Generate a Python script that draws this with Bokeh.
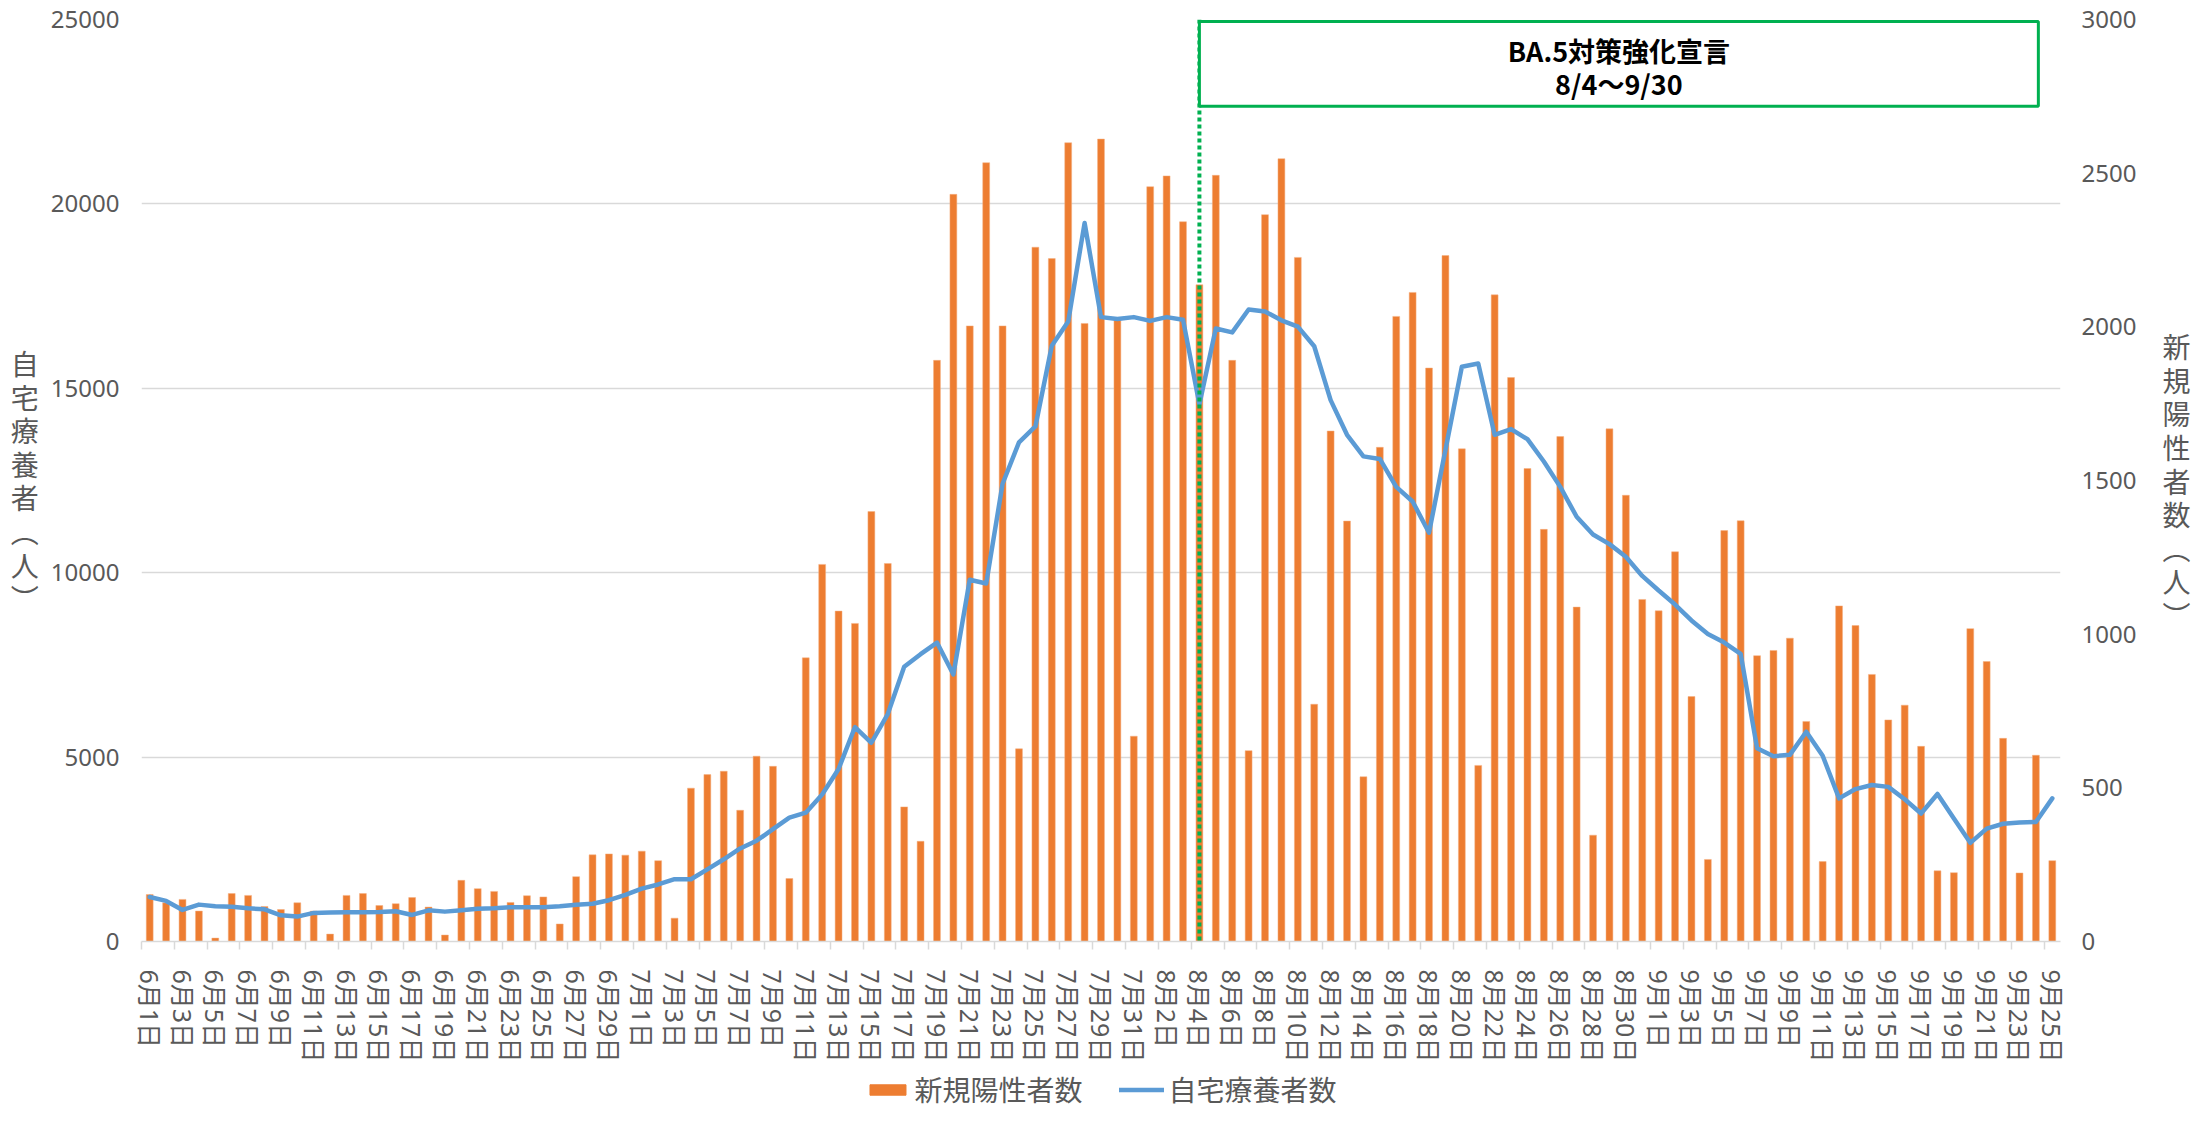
from bokeh.plotting import figure
from bokeh.layouts import column
from bokeh.models import (Range1d, LinearAxis, FixedTicker, Legend, LegendItem, Span,
                          BoxAnnotation, Label, PrintfTickFormatter)
from bokeh.embed import file_html
from bokeh.resources import INLINE

months = [(6, 30), (7, 31), (8, 31), (9, 25)]
dates = [f"{m}月{d}日" for m, n in months for d in range(1, n + 1)]

new_cases = [153, 126, 137, 99, 11, 156, 150, 114, 104, 126,
             99, 24, 150, 156, 117, 123, 143, 112, 21, 199,
             172, 163, 127, 149, 145, 57, 211, 282, 285, 281,
             294, 263, 76, 499, 543, 554, 427, 603, 570, 205,
             923, 1227, 1075, 1035, 1399, 1230, 438, 326, 1891, 2431,
             2003, 2534, 2003, 627, 2259, 2222, 2599, 2011, 2611, 2021,
             668, 2456, 2491, 2342, 2137, 2493, 1891, 621, 2365, 2547,
             2226, 772, 1661, 1368, 536, 1608, 2034, 2112, 1866, 2232,
             1603, 573, 2104, 1835, 1539, 1341, 1643, 1088, 346, 1668,
             1452, 1113, 1076, 1268, 797, 267, 1337, 1369, 930, 947,
             987, 716, 260, 1092, 1028, 869, 721, 769, 635, 230,
             224, 1018, 911, 661, 223, 606, 263]

home_care = [1206, 1100, 855, 1000, 955, 945, 900, 873, 711, 675,
             775, 783, 792, 792, 800, 820, 720, 846, 810, 846,
             891, 900, 927, 927, 930, 958, 996, 1025, 1120, 1262,
             1433, 1547, 1689, 1689, 1955, 2230, 2524, 2733, 3046, 3359,
             3492, 3985, 4678, 5816, 5389, 6167, 7448, 7790, 8105, 7241,
             9810, 9706, 12413, 13534, 13965, 16154, 16810, 19482, 16930, 16878,
             16930, 16827, 16930, 16861, 14568, 16620, 16516, 17137, 17085, 16844,
             16671, 16140, 14680, 13740, 13154, 13085, 12327, 11930, 11085, 13327,
             15585, 15671, 13740, 13895, 13620, 13016, 12327, 11516, 11034, 10775,
             10430, 9913, 9516, 9137, 8706, 8340, 8105, 7797, 5242, 5025,
             5061, 5688, 5037, 3880, 4133, 4242, 4193, 3856, 3470, 4001,
             3338, 2675, 3061, 3193, 3229, 3241, 3880]

left_ticks = [0, 5000, 10000, 15000, 20000, 25000]
right_ticks = [0, 500, 1000, 1500, 2000, 2500, 3000]

n = len(dates)
xs = [i + 0.5 for i in range(n)]

GRAY = "#595959"
GRID = "#d9d9d9"
JP = "Noto Sans CJK JP"
MIX = "'Noto Sans', 'Noto Sans CJK JP'"
ORANGE = "#ED7D31"
BLUE = "#5B9BD5"

p = figure(width=2195, height=1065, x_range=Range1d(0, n), y_range=Range1d(0, 25000),
           output_backend="svg", toolbar_location=None,
           min_border_left=141, min_border_right=135, min_border_top=19, min_border_bottom=120)
p.extra_y_ranges = {"right": Range1d(0, 3000)}
p.outline_line_color = None
p.background_fill_color = "white"
p.border_fill_color = "white"

# x axis
xa = p.xaxis[0]
xa.ticker = FixedTicker(ticks=[i + 0.5 for i in range(0, n, 2)],
                        minor_ticks=list(range(0, n, 2)))
xa.major_label_overrides = {i + 0.5: dates[i] for i in range(0, n, 2)}
xa.major_label_orientation = "vertical"
xa.major_tick_out = 0
xa.major_tick_in = 0
xa.minor_tick_out = 8
xa.minor_tick_in = 0
xa.minor_tick_line_color = GRID
xa.minor_tick_line_width = 1.5
xa.axis_line_color = GRID
xa.axis_line_width = 1.5
xa.major_label_standoff = 20
xa.major_label_text_font = MIX
xa.major_label_text_font_size = "25px"
xa.major_label_text_color = GRAY

# left axis
ya = p.yaxis[0]
ya.ticker = FixedTicker(ticks=left_ticks)
ya.formatter = PrintfTickFormatter(format="%d")
ya.axis_line_color = None
ya.major_tick_line_color = None
ya.minor_tick_line_color = None
ya.major_label_standoff = 16
ya.major_label_text_font = "Noto Sans"
ya.major_label_text_font_size = "24px"
ya.major_label_text_color = GRAY
ya.axis_label = "自\n宅\n療\n養\n者\n︵\n人\n︶"
ya.axis_label_orientation = "horizontal"
ya.axis_label_standoff = 9
ya.axis_label_text_font = JP
ya.axis_label_text_font_size = "28px"
ya.axis_label_text_font_style = "normal"
ya.axis_label_text_color = GRAY
ya.axis_label_text_line_height = 0.84

# right axis
ra = LinearAxis(y_range_name="right", ticker=FixedTicker(ticks=right_ticks),
                formatter=PrintfTickFormatter(format="%d"))
ra.axis_line_color = None
ra.major_tick_line_color = None
ra.minor_tick_line_color = None
ra.major_label_standoff = 15
ra.major_label_text_font = "Noto Sans"
ra.major_label_text_font_size = "24px"
ra.major_label_text_color = GRAY
ra.axis_label = "新\n規\n陽\n性\n者\n数\n︵\n人\n︶"
ra.axis_label_orientation = "horizontal"
ra.axis_label_standoff = 23
ra.axis_label_text_font = JP
ra.axis_label_text_font_size = "28px"
ra.axis_label_text_font_style = "normal"
ra.axis_label_text_color = GRAY
ra.axis_label_text_line_height = 0.84
p.add_layout(ra, "right")

p.xgrid.visible = False
p.ygrid.ticker = FixedTicker(ticks=left_ticks)
p.ygrid.grid_line_color = GRID
p.ygrid.grid_line_width = 1.5

bars = p.vbar(x=xs, top=new_cases, width=0.42, y_range_name="right",
              fill_color=ORANGE, line_color="#F4B183", line_width=0.5)
line = p.line(xs, home_care, line_color=BLUE, line_width=4.5,
              line_join="round", line_cap="round")

# declaration period annotation
start_x = dates.index("8月4日") + 0.5
p.add_layout(Span(location=start_x, dimension="height", line_color="#00B050",
                  line_width=4, line_dash="4 3"))
p.add_layout(BoxAnnotation(left=start_x, right=115.65, bottom=22651, top=24946,
                           fill_color="white", fill_alpha=1.0,
                           line_color="#00B050", line_width=3, line_alpha=1.0))
box_cx = (start_x + 115.65) / 2
for txt, yy in (("BA.5対策強化宣言", 24163), ("8/4～9/30", 23272)):
    p.add_layout(Label(x=box_cx, y=yy, text=txt, text_align="center",
                       text_baseline="middle", text_font=JP, text_font_size="27px",
                       text_font_style="bold", text_color="black"))

# legend strip below the chart (renderers hidden; only their legend swatches show)
q = figure(width=2195, height=44, output_backend="svg", toolbar_location=None,
           x_range=Range1d(0, n), y_range=Range1d(0, 25000),
           min_border_left=141, min_border_right=135, min_border_top=0, min_border_bottom=0)
q.axis.visible = False
q.grid.visible = False
q.outline_line_color = None
lb = q.vbar(x=xs, top=new_cases, width=0.42, fill_color=ORANGE, line_color=ORANGE, visible=False)
ll = q.line(x=xs, y=home_care, line_color=BLUE, line_width=4.5, line_cap="round", visible=False)
legend = Legend(items=[LegendItem(label="新規陽性者数", renderers=[lb]),
                       LegendItem(label="自宅療養者数", renderers=[ll])],
                orientation="horizontal", location="bottom_center",
                glyph_width=45, glyph_height=13, label_standoff=5, spacing=36,
                label_text_font=JP, label_text_font_size="28px",
                label_text_color=GRAY, border_line_color=None,
                background_fill_alpha=0, padding=0, margin=0,
                inactive_fill_alpha=0)
q.add_layout(legend)

open("out.html", "w").write(file_html(column(p, q), INLINE))
